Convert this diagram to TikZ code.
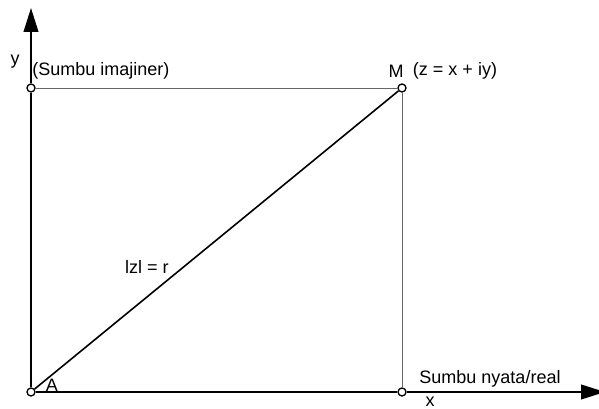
\documentclass[tikz,border=0pt]{standalone}
\usepackage{fontspec}
\setmainfont{Liberation Sans}
\usetikzlibrary{arrows.meta}
\tikzset{
  titik/.style={circle,draw=black,fill=white,line width=1pt,minimum size=6pt,inner sep=0pt},
  sumbu/.style={-{Triangle[length=18pt,width=11pt]},line width=1.5pt},
  sisi/.style={draw=black!60,line width=0.6pt},
  jari/.style={line width=1.2pt},
  ket/.style={inner sep=0pt,font=\fontsize{13.5}{15}\selectfont},
}

\begin{document}
\begin{tikzpicture}[x=0.75pt,y=0.75pt]
\useasboundingbox (0,0) rectangle (599,409);
\node[titik] (a) at (31,17) {};
\node[titik] (b) at (31,321) {};
\node[titik] (m) at (402,321) {};
\node[titik] (c) at (402,17) {};
\coordinate (ujungy) at (31,401);
\coordinate (ujungx) at (605,17);
\draw[sisi] (b) -- (m) -- (c);
\draw[sumbu] (a) -- (b) -- (ujungy);
\draw[sumbu] (a) -- (c) -- (ujungx);
\draw[jari] (a) -- (m);
\node[ket] (ly) at (15,347) {y};
\node[ket,anchor=west] (lim) at (32,338) {(Sumbu imajiner)};
\node[ket] (lm) at (396,338) {M};
\node[ket] (lz) at (455,338) {(z = x + iy)};
\node[ket] (lr) at (147,142) {lzl = r};
\node[ket] (la) at (52,24) {A};
\node[ket] (lre) at (490,30) {Sumbu nyata/real};
\node[ket] (lx) at (430,7) {x};
\end{tikzpicture}
\end{document}
